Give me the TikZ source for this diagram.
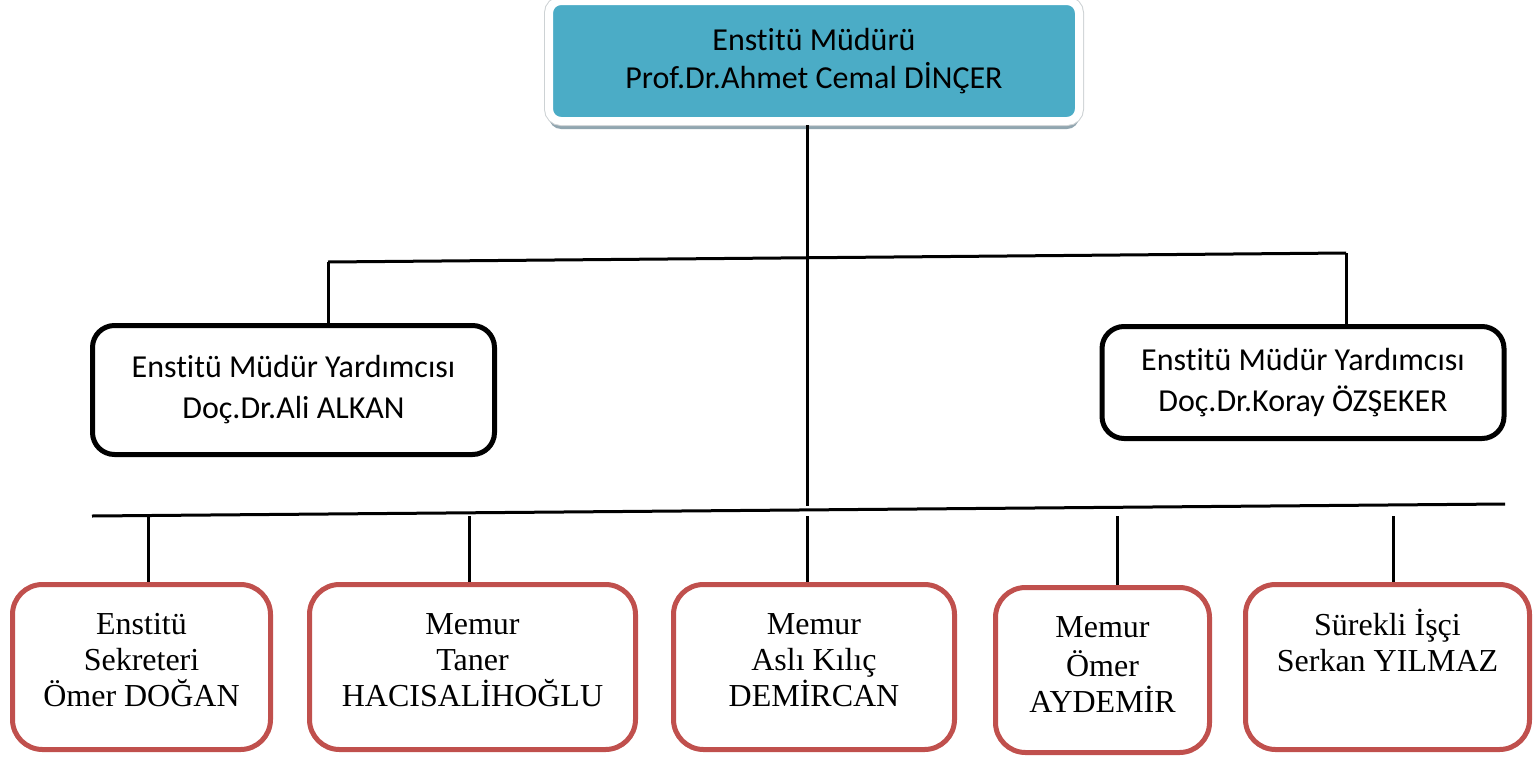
\documentclass[tikz,border=0pt]{standalone}
\usepackage{fontspec}
\setmainfont{Liberation Serif}
\newfontfamily\calibrifont[Ligatures=NoCommon]{Carlito}
\usetikzlibrary{positioning,shadows}
\definecolor{headteal}{RGB}{75,172,198}
\definecolor{headframe}{RGB}{205,210,212}
\definecolor{headshadow}{RGB}{145,166,176}
\definecolor{staffred}{RGB}{192,80,77}

\begin{document}
\begin{tikzpicture}[x=0.5pt, y=-0.5pt]
\tikzstyle{box}=[rectangle, align=center, inner sep=0pt]
\tikzstyle{director box}=[box, fill=headteal, draw=white, line width=4pt, rounded corners=6pt, minimum width=265pt, minimum height=60pt, drop shadow={shadow xshift=0pt, shadow yshift=-4pt, fill=headshadow, opacity=1}, preaction={draw=headframe, line width=5pt}, font=\calibrifont\fontsize{16}{19}\selectfont]
\tikzstyle{deputy box}=[box, draw=black, line width=2.5pt, rounded corners=11pt, minimum width=201pt, font=\calibrifont\fontsize{16}{20.5}\selectfont]
\tikzstyle{staff box}=[box, draw=staffred, line width=2.5pt, rounded corners=15pt, minimum height=82.5pt]
\tikzstyle{staff text}=[align=center, inner sep=0pt, font=\fontsize{16}{18}\selectfont]
\tikzstyle{link}=[draw=black, line width=1.5pt]

\useasboundingbox (0,0) rectangle (1536,760);

% Draw the director and deputies
\node[director box] (director) at (814,61) {Enstitü Müdürü\\Prof.Dr.Ahmet Cemal DİNÇER};
\node[deputy box, minimum height=64.5pt] (deputy left) at (293.5,390) {Enstitü Müdür Yardımcısı\\Doç.Dr.Ali ALKAN};
\node[deputy box, minimum height=56pt] (deputy right) at (1303,382.5) {Enstitü Müdür Yardımcısı\\Doç.Dr.Koray ÖZŞEKER};

% Draw the staff boxes
\foreach \name/\xpos/\ypos/\boxwd in {secretary/141.5/667/129, clerk taner/472.5/667/163, clerk asli/814/667/140.5, clerk omer/1102.5/670/107, worker/1387.5/667/142}
    \node[staff box, minimum width=\boxwd pt] (\name) at (\xpos,\ypos) {};

\node[staff text, below=13.5pt of secretary.north] (secretary text) {\strut Enstitü\\Sekreteri\\Ömer DOĞAN};
\node[staff text, below=13.5pt of clerk taner.north] (clerk taner text) {\strut Memur\\Taner\\HACISALİHOĞLU};
\node[staff text, below=13.5pt of clerk asli.north] (clerk asli text) {\strut Memur\\Aslı Kılıç\\DEMİRCAN};
\node[staff text, below=13.5pt of clerk omer.north] (clerk omer text) {\strut Memur\\Ömer\\AYDEMİR};
\node[staff text, below=13.5pt of worker.north] (worker text) {\strut Sürekli İşçi\\Serkan YILMAZ};

% Draw the trunk and the upper bus
\coordinate (trunk end) at (807,506);
\draw[link] (trunk end |- director.south) -- (trunk end);

\coordinate (upper left) at (328,262);
\coordinate (upper right) at (1346,253);
\draw[link] (upper left) -- (upper right);
\draw[link] (upper left) -- (upper left |- deputy left.north);
\draw[link] (upper right) -- (upper right |- deputy right.north);

% Draw the lower bus
\coordinate (lower left) at (92,516);
\coordinate (lower right) at (1505,504);
\draw[link] (lower left) -- (lower right);
\foreach \name/\xpos in {secretary/148, clerk taner/469, clerk asli/807, clerk omer/1117, worker/1393}
    \draw[link] (\xpos,516) -- (\xpos,0 |- \name.north);

\end{tikzpicture}
\end{document}
